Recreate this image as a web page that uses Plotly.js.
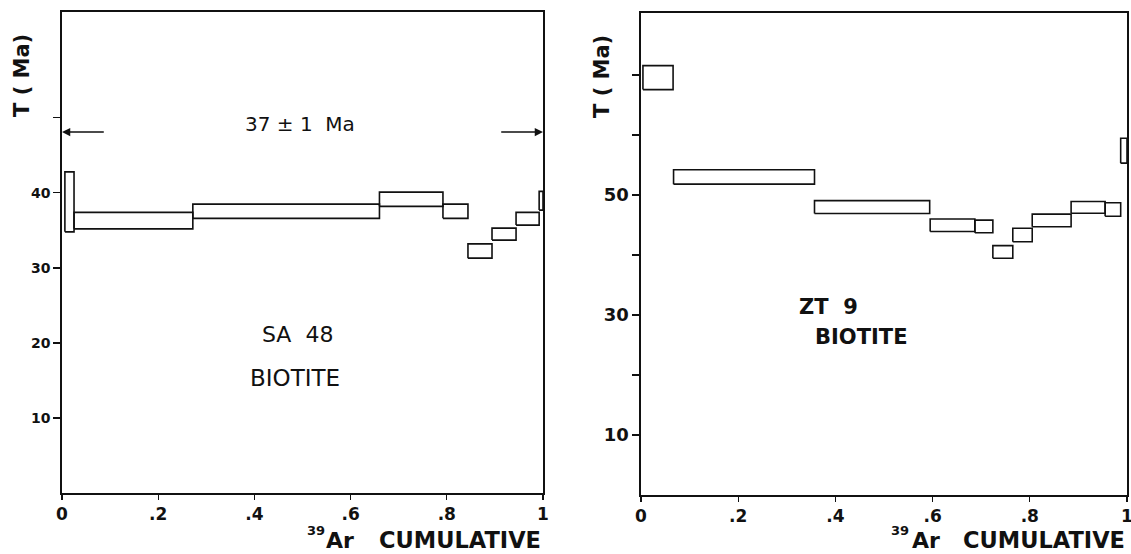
<!DOCTYPE html>
<html>
<head>
<meta charset="utf-8">
<script src="https://cdn.plot.ly/plotly-3.0.1.min.js"></script>
<style>html,body{margin:0;padding:0;background:#fff;}#chart{width:1131px;height:554px;}</style>
</head>
<body>
<div id="chart"></div>
<script>
// ---- SA 48 biotite (left panel) ----
const sa48Start = [0.006, 0.025, 0.272, 0.660, 0.792, 0.844, 0.894, 0.944, 0.992];
const sa48End   = [0.025, 0.272, 0.660, 0.792, 0.844, 0.894, 0.944, 0.992, 1.000];
const sa48Low   = [34.8, 35.2, 36.6, 38.2, 36.6, 31.3, 33.7, 35.7, 37.7];
const sa48High  = [42.8, 37.4, 38.5, 40.1, 38.5, 33.2, 35.3, 37.4, 40.2];

// ---- ZT 9 biotite (right panel) ----
const zt9Start = [0.004, 0.067, 0.357, 0.595, 0.687, 0.724, 0.765, 0.805, 0.885, 0.955, 0.987];
const zt9End   = [0.066, 0.357, 0.594, 0.687, 0.724, 0.765, 0.805, 0.885, 0.955, 0.987, 1.000];
const zt9Low   = [67.55, 51.8, 46.9, 43.9, 43.7, 39.45, 42.2, 44.7, 46.95, 46.45, 55.3];
const zt9High  = [71.55, 54.2, 49.05, 46.0, 45.8, 41.55, 44.45, 46.8, 48.9, 48.7, 59.45];

// plateau age (left panel)
const plateauLabel = "37 \u00B1 1  Ma";
const plateauRange = [0, 1];
const plateauArrowLen = 0.09;
const plateauArrowY = 48.1;

// tick labels
const xTickVals = [0, 0.2, 0.4, 0.6, 0.8, 1];
const xTickText = ["0", ".2", ".4", ".6", ".8", "1"];
const yLeftTickVals = [10, 20, 30, 40, 50];
const yLeftTickText = ["10", "20", "30", "40", ""];
const yRightTickVals = [10, 20, 30, 40, 50, 60, 70];
const yRightTickText = ["10", "", "30", "", "50", "", ""];

function boxes(x0, x1, lo, hi, xa, ya) {
  const xs = [], ys = [];
  for (let i = 0; i < x0.length; i++) {
    xs.push(x0[i], x1[i], x1[i], x0[i], x0[i], null);
    ys.push(lo[i], lo[i], hi[i], hi[i], lo[i], null);
  }
  return {x: xs, y: ys, xaxis: xa, yaxis: ya, type: 'scatter', mode: 'lines',
          line: {color: '#111', width: 1.6}, hoverinfo: 'skip', showlegend: false};
}

const data = [
  boxes(sa48Start, sa48End, sa48Low, sa48High, 'x', 'y'),
  boxes(zt9Start, zt9End, zt9Low, zt9High, 'x2', 'y2')
];

const W = 1131, H = 554;
const FAM = 'DejaVu Sans';

function xAxis(d0, d1, anchor) {
  return {domain: [d0 / W, d1 / W], range: [0, 1], anchor: anchor,
    showline: true, mirror: true, linecolor: '#111', linewidth: 1.6,
    ticks: 'outside', ticklen: 5, tickwidth: 1.3, tickcolor: '#111',
    tickvals: xTickVals, ticktext: xTickText, showgrid: false, zeroline: false,
    ticklabeloverflow: 'allow',
    tickfont: {family: FAM, size: 17, color: '#111', weight: 'bold'}};
}
function yAxis(top, bottom, maxV, tv, tt, fs, anchor) {
  return {domain: [1 - bottom / H, 1 - top / H], range: [0, maxV], anchor: anchor,
    showline: true, mirror: true, linecolor: '#111', linewidth: 1.6,
    ticks: 'outside', ticklen: 7, tickwidth: 1.3, tickcolor: '#111',
    tickvals: tv, ticktext: tt, showgrid: false, zeroline: false,
    tickfont: {family: FAM, size: fs, color: '#111', weight: 'bold'}};
}

function paperText(text, xpx, ypx, size, xanchor, opts) {
  return Object.assign({x: xpx / W, y: 1 - ypx / H, xref: 'paper', yref: 'paper',
    xanchor: xanchor, yanchor: 'middle', text: text, showarrow: false, borderpad: 0,
    font: {family: FAM, size: size, color: '#111', weight: 'bold'}}, opts || {});
}

const annotations = [
  // plateau arrows
  {x: plateauRange[0], y: plateauArrowY, ax: plateauRange[0] + plateauArrowLen, ay: plateauArrowY,
   xref: 'x', yref: 'y', axref: 'x', ayref: 'y', showarrow: true, arrowhead: 2, arrowsize: 1.1,
   arrowwidth: 1.5, arrowcolor: '#111', text: ''},
  {x: plateauRange[1], y: plateauArrowY, ax: plateauRange[1] - plateauArrowLen, ay: plateauArrowY,
   xref: 'x', yref: 'y', axref: 'x', ayref: 'y', showarrow: true, arrowhead: 2, arrowsize: 1.1,
   arrowwidth: 1.5, arrowcolor: '#111', text: ''},
  {x: 0.495, y: 49.2, xref: 'x', yref: 'y', text: plateauLabel, showarrow: false,
   font: {family: FAM, size: 20, color: '#111'}},
  {x: 0.489, y: 21.07, xref: 'x', yref: 'y', text: 'SA  48', showarrow: false,
   font: {family: FAM, size: 22, color: '#111'}},
  {x: 0.484, y: 15.27, xref: 'x', yref: 'y', text: 'BIOTITE', showarrow: false,
   font: {family: FAM, size: 23, color: '#111'}},
  {x: 0.386, y: 31.25, xref: 'x2', yref: 'y2', text: 'ZT  9', showarrow: false,
   font: {family: FAM, size: 21, color: '#111', weight: 'bold'}},
  {x: 0.453, y: 26.25, xref: 'x2', yref: 'y2', text: 'BIOTITE', showarrow: false,
   font: {family: FAM, size: 21, color: '#111', weight: 'bold'}},
  // y titles
  paperText('T ( Ma)', 22.5, 75.5, 21, 'center', {textangle: -90}),
  paperText('T ( Ma)', 602.5, 76.5, 21, 'center', {textangle: -90}),
  // x titles (left panel)
  paperText('39', 326, 530, 13, 'right'),
  paperText('Ar', 355, 540, 22, 'right'),
  paperText('CUMULATIVE', 542, 540, 22.5, 'right'),
  // x titles (right panel)
  paperText('39', 910, 530, 13, 'right'),
  paperText('Ar', 941, 540, 22, 'right'),
  paperText('CUMULATIVE', 1126, 540, 22.5, 'right')
];

const layout = {
  width: W, height: H, margin: {l: 0, r: 0, t: 0, b: 0},
  paper_bgcolor: '#fff', plot_bgcolor: '#fff', showlegend: false,
  xaxis: xAxis(62, 543, 'y'),
  yaxis: yAxis(12, 493, 64.1, yLeftTickVals, yLeftTickText, 14, 'x'),
  xaxis2: xAxis(641, 1127, 'y2'),
  yaxis2: yAxis(12.5, 495, 80.4, yRightTickVals, yRightTickText, 18, 'x2'),
  annotations: annotations
};

Plotly.newPlot('chart', data, layout, {displayModeBar: false, staticPlot: true});
</script>
</body>
</html>
